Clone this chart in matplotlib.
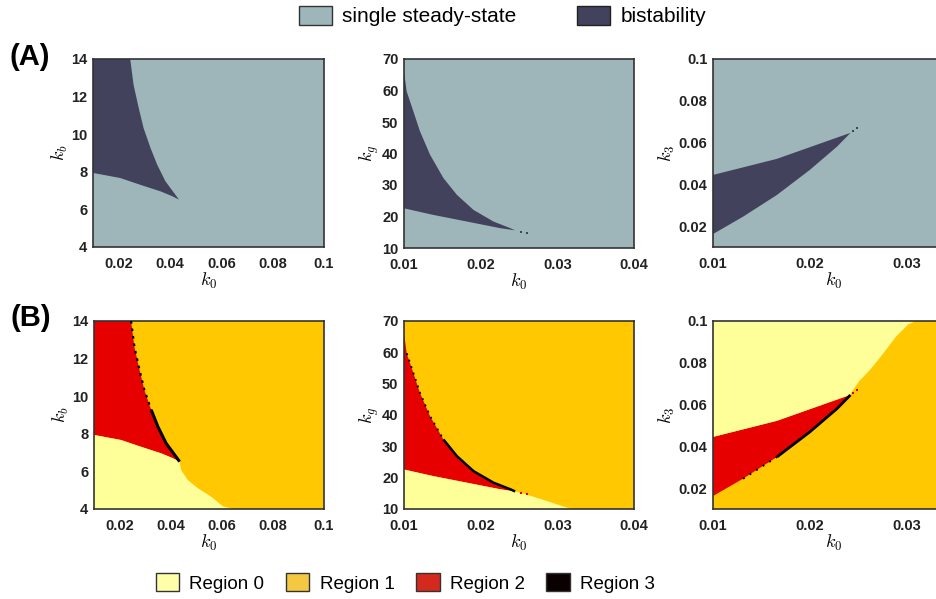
import matplotlib
matplotlib.use('Agg')
import matplotlib.pyplot as plt
from matplotlib.patches import Patch

plt.rcParams['font.family'] = ['Liberation Sans', 'DejaVu Sans']
plt.rcParams['mathtext.fontset'] = 'cm'

# ---- boundaries ---------------------------------------------------------------
# k0 vs kb : right (upper) edge and lower edge of the bistable wedge
kb_right_x = [0.0245, 0.0258, 0.0278, 0.0297, 0.0324, 0.0350, 0.0382, 0.0415, 0.0435]
kb_right_y = [14.0, 12.63, 11.4, 10.33, 9.27, 8.38, 7.5, 6.89, 6.52]
kb_low_x = [0.0100, 0.0206, 0.0284, 0.0363, 0.0409, 0.0435]
kb_low_y = [7.94, 7.67, 7.31, 6.96, 6.70, 6.52]
kb_r0_x = [0.0435, 0.0441, 0.0467, 0.0507, 0.0559, 0.0605, 0.0644]
kb_r0_y = [6.52, 6.07, 5.54, 5.10, 4.65, 4.14, 4.0]

# k0 vs kg
kg_up_x = [0.0100, 0.01035, 0.01122, 0.01209, 0.0134, 0.01514, 0.01689, 0.01906, 0.02167, 0.02386, 0.0245]
kg_up_y = [66.1, 59.7, 53.4, 47.0, 39.6, 32.2, 26.9, 22.1, 18.4, 16.3, 15.6]
kg_low_x = [0.0100, 0.01383, 0.0182, 0.02255, 0.0245]
kg_low_y = [22.6, 20.5, 18.4, 16.3, 15.6]
kg_r0_x = [0.0245, 0.0260, 0.0287, 0.0313, 0.0321]
kg_r0_y = [15.6, 14.6, 12.5, 10.4, 10.0]
kg_dots_x = [0.0252, 0.0260]
kg_dots_y = [15.2, 14.9]

# k0 vs k3
k3_up_x = [0.0100, 0.0166, 0.0238, 0.0242]
k3_up_y = [0.0445, 0.0522, 0.0640, 0.0646]
k3_low_x = [0.0100, 0.0131, 0.0166, 0.0200, 0.0228, 0.0242]
k3_low_y = [0.0162, 0.0245, 0.0349, 0.0469, 0.0580, 0.0646]
k3_r0_x = [0.0242, 0.0251, 0.0262, 0.0276, 0.0289, 0.0302, 0.0310]
k3_r0_y = [0.0652, 0.0712, 0.0765, 0.0845, 0.0925, 0.0985, 0.1000]
k3_dots_x = [0.0245, 0.0249]
k3_dots_y = [0.0655, 0.0668]

# axis setup per column
xlims = [(0.01, 0.1), (0.01, 0.04), (0.01, 0.035)]
ylims = [(4, 14), (10, 70), (0.01, 0.1)]
xticks = [[0.02, 0.04, 0.06, 0.08, 0.1], [0.01, 0.02, 0.03, 0.04], [0.01, 0.02, 0.03]]
xticklabels = [['0.02', '0.04', '0.06', '0.08', '0.1'], ['0.01', '0.02', '0.03', '0.04'], ['0.01', '0.02', '0.03']]
yticks = [[4, 6, 8, 10, 12, 14], [10, 20, 30, 40, 50, 60, 70], [0.02, 0.04, 0.06, 0.08, 0.1]]
yticklabels = [['4', '6', '8', '10', '12', '14'], ['10', '20', '30', '40', '50', '60', '70'],
               ['0.02', '0.04', '0.06', '0.08', '0.1']]
ylabels = [r'$k_b$', r'$k_g$', r'$k_3$']

C_SINGLE = '#9eb6ba'
C_BI = '#42425c'
C_R0 = '#ffff99'
C_R1 = '#ffc800'
C_R2 = '#e60000'
C_R3 = '#000000'

W, H = 936, 599
fig = plt.figure(figsize=(W / 100, H / 100), dpi=100)


def px_axes(l, t, r, b):
    return fig.add_axes([l / W, 1 - b / H, (r - l) / W, (b - t) / H])


boxes = [[(93, 59, 324, 247), (404, 59, 634, 248), (713, 59, 955, 247)],
         [(94, 321, 324, 509), (404, 321, 634, 509), (713, 321, 955, 509)]]
axes = [[px_axes(*b) for b in row] for row in boxes]

for r in range(2):
    for c in range(3):
        ax = axes[r][c]
        ax.set_xlim(*xlims[c]); ax.set_ylim(*ylims[c])
        ax.set_xticks(xticks[c]); ax.set_xticklabels(xticklabels[c])
        ax.set_yticks(yticks[c]); ax.set_yticklabels(yticklabels[c])
        ax.tick_params(length=0, labelsize=10.5)
        ax.tick_params(axis='x', pad=7)
        ax.tick_params(axis='y', pad=4)
        for lab in ax.get_xticklabels() + ax.get_yticklabels():
            lab.set_fontweight('bold')
            lab.set_color('#222222')
        ax.set_xlabel(r'$k_0$', fontsize=13, labelpad=0)
        ax.set_ylabel(ylabels[c], fontsize=13, labelpad=1)
        for s in ax.spines.values():
            s.set_color('#333333'); s.set_linewidth(1.2)
        ax.set_facecolor(C_SINGLE if r == 0 else C_R1)

wedges = [
    (kb_right_x, kb_right_y, kb_low_x, kb_low_y, 14),
    (kg_up_x, kg_up_y, kg_low_x, kg_low_y, None),
    (k3_up_x, k3_up_y, k3_low_x, k3_low_y, None),
]

# bistable wedge (row A) == region 2 (row B)
for c, (ux, uy, lx, ly, top) in enumerate(wedges):
    xs = [0.01] + list(ux) + list(lx[::-1])
    ys = [uy[0] if top is None else top] + list(uy) + list(ly[::-1])
    for ax, col in ((axes[0][c], C_BI), (axes[1][c], C_R2)):
        ax.fill(xs, ys, color=col, lw=0, zorder=2)

for c, (dx, dy) in ((1, (kg_dots_x, kg_dots_y)), (2, (k3_dots_x, k3_dots_y))):
    axes[0][c].plot(dx, dy, 's', color=C_BI, ms=2.0, mew=0, zorder=3)
    axes[1][c].plot(dx, dy, 's', color=C_R2, ms=2.0, mew=0, zorder=3)

# row B: region 0
b1, b2, b3 = axes[1]
b1.fill([0.01] + kb_low_x + kb_r0_x[1:], [4] + kb_low_y + kb_r0_y[1:], color=C_R0, lw=0, zorder=2)
b2.fill([0.01] + kg_low_x + kg_r0_x[1:], [10] + kg_low_y + kg_r0_y[1:], color=C_R0, lw=0, zorder=2)
b3.fill([0.01] + k3_up_x + k3_r0_x, [0.1] + k3_up_y + k3_r0_y, color=C_R0, lw=0, zorder=2)

# region 3: thin black rim on the wedge edge
b1.plot(kb_right_x[:5], kb_right_y[:5], color=C_R3, lw=1.6, ls=(0, (1.2, 2.2)), zorder=3)
b1.plot(kb_right_x[4:], kb_right_y[4:], color=C_R3, lw=2.2, zorder=3, solid_capstyle='butt')
b2.plot(kg_up_x[1:6], kg_up_y[1:6], color=C_R3, lw=1.4, ls=(0, (1, 2.5)), zorder=3)
b2.plot(kg_up_x[5:], kg_up_y[5:], color=C_R3, lw=1.8, zorder=3, solid_capstyle='butt')
b3.plot(k3_low_x[1:3], k3_low_y[1:3], color=C_R3, lw=1.4, ls=(0, (1, 3)), zorder=3)
b3.plot(k3_low_x[2:], k3_low_y[2:], color=C_R3, lw=2.0, zorder=3, solid_capstyle='butt')

fig.text(30 / W, 1 - 57 / H, '(A)', fontsize=21, fontweight='bold', ha='center', va='center')
fig.text(31 / W, 1 - 318 / H, '(B)', fontsize=21, fontweight='bold', ha='center', va='center')

top_handles = [Patch(facecolor=C_SINGLE, edgecolor='#333333'), Patch(facecolor=C_BI, edgecolor='#222222')]
fig.legend(top_handles, ['single steady-state', 'bistability'], loc='center', bbox_to_anchor=(0.537, 0.973),
           ncol=2, frameon=False, fontsize=15, handlelength=1.6, handleheight=1.0, handletextpad=0.5,
           columnspacing=2.9)

bot_handles = [Patch(facecolor='#ffffaa', edgecolor='#333333'), Patch(facecolor='#f5c842', edgecolor='#333333'),
               Patch(facecolor='#d42a1e', edgecolor='#333333'), Patch(facecolor='#0a0000', edgecolor='#333333')]
fig.legend(bot_handles, ['Region 0', 'Region 1', 'Region 2', 'Region 3'], loc='center',
           bbox_to_anchor=(0.433, 0.027), ncol=4, frameon=False, fontsize=13.5,
           handlelength=1.25, handleheight=1.1, handletextpad=0.55, columnspacing=1.15)

fig.savefig('out.png', dpi=100)
